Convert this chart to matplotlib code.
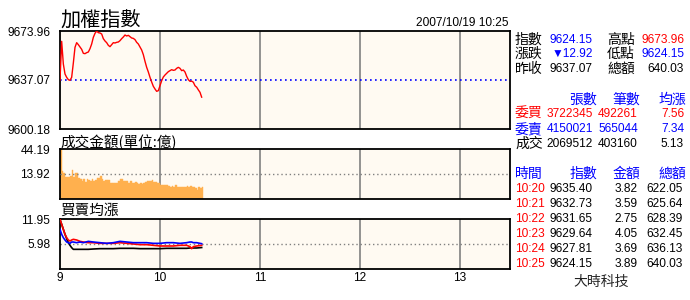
import numpy as np
import matplotlib
matplotlib.use("Agg")
import matplotlib.pyplot as plt

plt.rcParams['font.family'] = ['Noto Sans CJK TC', 'DejaVu Sans']

# minutes after 9:00
minutes = list(range(86))

index_vals = [
    9637.07, 9666.18, 9649.12, 9641.59, 9639.08, 9637.32, 9636.82, 9639.08, 9649.87, 9661.66,
    9665.18, 9663.67, 9661.91, 9660.16, 9657.15, 9656.90, 9657.65, 9658.15, 9660.66, 9664.17,
    9669.19, 9672.20, 9673.96, 9672.71, 9672.45, 9671.70, 9668.19, 9666.43, 9665.18, 9663.17,
    9662.17, 9663.67, 9665.18, 9664.93, 9665.43, 9665.68, 9666.68, 9668.19, 9669.44, 9670.95,
    9670.20, 9670.70, 9669.69, 9668.69, 9668.40, 9667.44, 9665.43, 9664.17, 9661.91, 9659.66,
    9656.14, 9651.12, 9646.61, 9643.09, 9639.08, 9635.56, 9632.30, 9630.29, 9628.54, 9629.04,
    9632.80, 9636.57, 9639.33, 9640.83, 9642.09, 9643.34, 9644.10, 9644.85, 9644.35, 9644.60,
    9645.85, 9646.61, 9645.85, 9644.10, 9644.60, 9643.09, 9639.83, 9637.32, 9636.06, 9636.20,
    9635.40, 9632.73, 9631.65, 9629.64, 9627.81, 9624.15,
]

amount_vals = [
    44.19, 17.16, 14.53, 11.54, 11.25, 11.25, 12.10, 17.80, 11.25, 15.20,
    15.20, 10.69, 9.32, 8.04, 9.32, 7.56, 9.32, 8.54, 7.79, 9.32,
    8.04, 8.54, 10.41, 10.41, 11.82, 9.32, 8.04, 9.07, 8.54, 8.80,
    6.84, 6.84, 6.84, 6.84, 6.84, 8.30, 9.32, 9.32, 8.04, 8.04,
    8.04, 6.84, 7.79, 6.84, 6.38, 7.32, 6.38, 6.16, 6.84, 5.94,
    6.84, 7.32, 8.04, 8.30, 8.04, 8.80, 7.32, 7.32, 6.38, 6.84,
    5.51, 5.08, 5.51, 5.51, 5.51, 4.68, 4.30, 4.68, 4.30, 5.08,
    4.30, 4.30, 4.30, 4.30, 4.30, 4.30, 4.68, 4.30, 4.68, 4.30,
    3.82, 3.59, 2.75, 4.05, 3.69, 3.89,
]

# 買賣均漲 lines
avg_min = [0, 1, 2, 3, 4, 5, 6, 7, 8, 10, 12, 14, 17, 20, 24, 28, 32, 36, 40, 44,
           48, 52, 56, 60, 64, 68, 72, 76, 78, 79, 80, 82, 85]
buy_avg = [11.87, 10.68, 9.48, 8.29, 7.49, 6.93, 6.69, 6.93, 7.09, 6.93, 6.61, 6.45, 6.29,
           6.29, 6.13, 6.13, 6.13, 6.29, 6.13, 5.98, 5.82, 5.82, 5.66, 5.50, 5.50, 5.50,
           5.66, 5.66, 5.34, 4.86, 5.34, 5.50, 5.66]
sell_avg = [9.48, 8.29, 7.49, 6.93, 6.45, 6.29, 6.13, 6.45, 6.45, 6.29, 6.45, 6.29, 6.61,
            6.45, 6.29, 6.13, 6.29, 6.61, 6.45, 6.29, 6.29, 6.29, 6.13, 6.13, 6.29, 6.29,
            6.13, 6.29, 6.45, 6.45, 6.29, 6.29, 6.05]
deal_avg = [11.87, 10.68, 9.48, 8.29, 7.25, 6.29, 5.66, 5.10, 4.70, 4.70, 4.70, 4.70, 4.70,
            4.78, 4.86, 4.86, 4.86, 4.94, 4.94, 4.94, 4.86, 4.86, 4.86, 4.86, 4.94, 4.94,
            4.94, 4.94, 5.02, 5.02, 5.02, 5.02, 5.13]

x_ticks = [0, 60, 120, 180, 240]
x_labels = ['9', '10', '11', '12', '13']

info_rows = [('指數', '9624.15', 'blue', '高點', '9673.96', 'red'),
             ('漲跌', '▼12.92', 'blue', '低點', '9624.15', 'blue'),
             ('昨收', '9637.07', 'black', '總額', '640.03', 'black')]

order_head = ['張數', '筆數', '均漲']
order_rows = [('委買', '3722345', '492261', '7.56', 'red'),
              ('委賣', '4150021', '565044', '7.34', 'blue'),
              ('成交', '2069512', '403160', '5.13', 'black')]

tick_head = ['時間', '指數', '金額', '總額']
tick_rows = [('10:20', '9635.40', '3.82', '622.05'),
             ('10:21', '9632.73', '3.59', '625.64'),
             ('10:22', '9631.65', '2.75', '628.39'),
             ('10:23', '9629.64', '4.05', '632.45'),
             ('10:24', '9627.81', '3.69', '636.13'),
             ('10:25', '9624.15', '3.89', '640.03')]

W, H = 690, 300
fig = plt.figure(figsize=(6.9, 3.0), dpi=100)
fig.patch.set_facecolor('white')
bg = '#fffaf2'
num_font = ['Liberation Sans', 'DejaVu Sans']
NS = 8.6   # number size
CS = 10    # chinese label size


def add_panel(top, bottom):
    ax = fig.add_axes([60 / W, 1 - bottom / H, 450 / W, (bottom - top) / H])
    ax.set_facecolor(bg)
    for s in ax.spines.values():
        s.set_linewidth(1.3)
    ax.set_xlim(0, 270)
    for t in x_ticks[1:]:
        ax.axvline(t, color='#808080', lw=1.2, zorder=1)
    ax.tick_params(length=0, pad=7)
    return ax


def ftext(x, y, s, **kw):
    fig.text(x / W, 1 - y / H, s, va='center', **kw)


# price panel
ax1 = add_panel(31, 129)
ax1.plot(minutes, index_vals, color='red', lw=1, zorder=3)
ax1.axhline(9637.07, color='blue', ls=(0, (1, 2)), lw=1.2, zorder=2)
ax1.set_ylim(9600.18, 9673.96)
ax1.set_yticks([9600.18, 9637.07, 9673.96])
ax1.set_yticklabels(['9600.18', '9637.07', '9673.96'], family=num_font, fontsize=NS)
ax1.set_xticks([])

# amount panel
ax2 = add_panel(149, 199)
ax2.set_yscale('function', functions=(lambda v: np.power(np.clip(v, 0, None), 0.6),
                                      lambda v: np.power(np.clip(v, 0, None), 1 / 0.6)))
ax2.bar(minutes, amount_vals, width=1, align='edge', color='#ffb04e',
        edgecolor='#ffb04e', lw=0.3, zorder=2)
ax2.axhline(13.92, color='#808080', ls=(0, (1, 2)), lw=1, zorder=3)
ax2.set_ylim(0, 44.19)
ax2.set_yticks([13.92, 44.19])
ax2.set_yticklabels(['13.92', '44.19'], family=num_font, fontsize=NS)
ax2.minorticks_off()
ax2.set_xticks([])

# avg change panel
ax3 = add_panel(219, 269)
ax3.axhline(5.98, color='#808080', ls=(0, (1, 2)), lw=1, zorder=2)
ax3.plot(avg_min, deal_avg, color='black', lw=1.2, zorder=3)
ax3.plot(avg_min, buy_avg, color='red', lw=1.2, zorder=4)
ax3.plot(avg_min, sell_avg, color='blue', lw=1.2, zorder=5)
ax3.set_ylim(0, 11.95)
ax3.set_yticks([5.98, 11.95])
ax3.set_yticklabels(['5.98', '11.95'], family=num_font, fontsize=NS)
ax3.set_xticks(x_ticks)
ax3.set_xticklabels(x_labels, family=num_font, fontsize=NS)
ax3.tick_params(axis='x', pad=2)

# titles
ftext(60, 21, '加權指數', fontsize=14.5)
ftext(60, 142, '成交金額(單位:億)', fontsize=10.5)
ftext(60, 211, '買賣均漲', fontsize=10.5)
ftext(508, 23, '2007/10/19 10:25', ha='right', fontsize=NS, family=num_font)

# summary block
for i, (l1, v1, c1, l2, v2, c2) in enumerate(info_rows):
    y = 40 + i * 14.3
    ftext(515, y, l1, fontsize=CS)
    ftext(593, y, v1, ha='right', color=c1, fontsize=NS, family=num_font)
    ftext(607, y, l2, fontsize=CS)
    ftext(684, y, v2, ha='right', color=c2, fontsize=NS, family=num_font)

# order block
for h, x in zip(order_head, [597, 640, 686]):
    ftext(x, 100, h, ha='right', color='blue', fontsize=CS)
for i, (lab, a, b, c, col) in enumerate(order_rows):
    y = 114 + i * 15
    ftext(515, y, lab, color=col, fontsize=CS)
    ftext(593, y, a, ha='right', color=col, fontsize=NS, family=num_font)
    ftext(638, y, b, ha='right', color=col, fontsize=NS, family=num_font)
    ftext(684, y, c, ha='right', color=col, fontsize=NS, family=num_font)

# tick block
for h, x, ha in zip(tick_head, [515, 597, 640, 686], ['left', 'right', 'right', 'right']):
    ftext(x, 174, h, ha=ha, color='blue', fontsize=CS)
for i, (t, idx, amt, tot) in enumerate(tick_rows):
    y = 189 + i * 15
    ftext(515, y, t, color='red', fontsize=NS, family=num_font)
    ftext(593, y, idx, ha='right', fontsize=NS, family=num_font)
    ftext(638, y, amt, ha='right', fontsize=NS, family=num_font)
    ftext(683, y, tot, ha='right', fontsize=NS, family=num_font)

ftext(601, 282, '大時科技', ha='center', fontsize=CS, color='#222222')

fig.savefig('out.png', dpi=100)
